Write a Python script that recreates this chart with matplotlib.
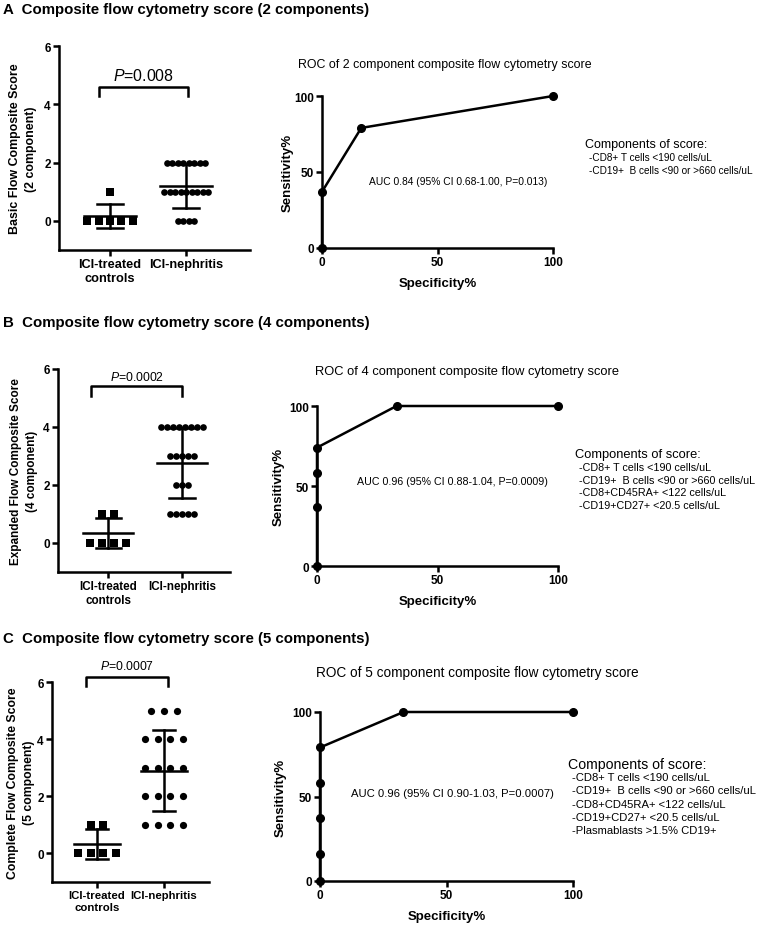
import numpy as np
import matplotlib
matplotlib.use("Agg")
import matplotlib.pyplot as plt

plt.rcParams['font.family'] = ['Liberation Sans', 'DejaVu Sans']
plt.rcParams['mathtext.fontset'] = 'custom'
plt.rcParams['mathtext.it'] = 'Liberation Sans:italic'
plt.rcParams['mathtext.rm'] = 'Liberation Sans'

# ---------------- data ----------------
groups = ["ICI-treated\ncontrols", "ICI-nephritis"]

A_controls = [1, 0, 0, 0, 0, 0]
A_nephritis = [2, 2, 2, 2, 2, 2, 2, 2, 1, 1, 1, 1, 1, 1, 1, 1, 1, 0, 0, 0, 0]
B_controls = [1, 1, 0, 0, 0, 0]
B_nephritis = [4, 4, 4, 4, 4, 4, 4, 4, 3, 3, 3, 3, 3, 2, 2, 2, 1, 1, 1, 1, 1]
C_controls = [1, 1, 0, 0, 0, 0]
C_nephritis = [5, 5, 5, 4, 4, 4, 4, 3, 3, 3, 3, 2, 2, 2, 2, 1, 1, 1, 1]

A_pval = "=0.008"
B_pval = "=0.0002"
C_pval = "=0.0007"

A_ylabel = "Basic Flow Composite Score\n(2 component)"
B_ylabel = "Expanded Flow Composite Score\n(4 component)"
C_ylabel = "Complete Flow Composite Score\n(5 component)"

A_roc_spec = [0, 0, 17, 100]
A_roc_sens = [0, 37, 79, 100]
B_roc_spec = [0, 0, 0, 0, 33, 100]
B_roc_sens = [0, 37, 58, 74, 100, 100]
C_roc_spec = [0, 0, 0, 0, 0, 33, 100]
C_roc_sens = [0, 16, 37, 58, 79, 100, 100]

A_auc = "AUC 0.84 (95% CI 0.68-1.00, P=0.013)"
B_auc = "AUC 0.96 (95% CI 0.88-1.04, P=0.0009)"
C_auc = "AUC 0.96 (95% CI 0.90-1.03, P=0.0007)"

A_roc_title = "ROC of 2 component composite flow cytometry score"
B_roc_title = "ROC of 4 component composite flow cytometry score"
C_roc_title = "ROC of 5 component composite flow cytometry score"

components = ["-CD8+ T cells <190 cells/uL",
              "-CD19+  B cells <90 or >660 cells/uL",
              "-CD8+CD45RA+ <122 cells/uL",
              "-CD19+CD27+ <20.5 cells/uL",
              "-Plasmablasts >1.5% CD19+"]
A_ncomp, B_ncomp, C_ncomp = 2, 4, 5

panel_titles = ["A  Composite flow cytometry score (2 components)",
                "B  Composite flow cytometry score (4 components)",
                "C  Composite flow cytometry score (5 components)"]

# ---------------- figure ----------------
W, H = 760, 928
fig = plt.figure(figsize=(W / 100, H / 100), dpi=100)


def fx(x):
    return x / W


def fy(y):
    return 1 - y / H


def rect(l, r, t, b):
    return [fx(l), fy(b), fx(r) - fx(l), fy(t) - fy(b)]


LW = 1.8


def style(ax, xfs=8.5):
    for s in ['top', 'right']:
        ax.spines[s].set_visible(False)
    for s in ['left', 'bottom']:
        ax.spines[s].set_linewidth(LW)
    ax.tick_params(width=LW, length=4, labelsize=8.5, pad=2)
    ax.tick_params(axis='x', labelsize=xfs)
    for lab in ax.get_xticklabels() + ax.get_yticklabels():
        lab.set_fontweight('bold')


def scatter_panel(rct, ctrl, neph, xlim, sp_c, sp_n, ms_c, ms_n,
                  pval, pfs, br_x, br_top, br_bot, p_y, ylabel, ylab_fs,
                  ylab_x, xfs):
    ax = fig.add_axes(rct)
    for xi, vals, sp, mk, ms in [(0, ctrl, sp_c, 's', ms_c), (1, neph, sp_n, 'o', ms_n)]:
        vals = np.asarray(vals, float)
        for v in np.unique(vals):
            n = int(np.sum(vals == v))
            offs = (np.arange(n) - (n - 1) / 2) * sp
            ax.plot(xi + offs, np.full(n, v), mk, color='black', ms=ms,
                    mew=0, zorder=2, clip_on=False)
        m = vals.mean()
        sd = vals.std(ddof=1)
        ax.plot([xi - 0.34, xi + 0.34], [m, m], color='black', lw=LW, zorder=3)
        ax.plot([xi, xi], [m - sd, m + sd], color='black', lw=LW, zorder=3)
        for yy in (m - sd, m + sd):
            ax.plot([xi - 0.17, xi + 0.17], [yy, yy], color='black', lw=LW, zorder=3)
    ax.set_xlim(*xlim)
    ax.set_ylim(-1, 6)
    ax.set_yticks([0, 2, 4, 6])
    ax.set_xticks([0, 1])
    ax.set_xticklabels(groups)
    style(ax, xfs=xfs)
    ax.set_ylabel(ylabel, fontsize=ylab_fs, fontweight='bold', linespacing=1.5)
    ax.yaxis.label.set_va('center')
    l, b, w, h = rct
    ax.yaxis.set_label_coords((fx(ylab_x) - l) / w, 0.5)
    # significance bracket
    ax.plot([br_x[0], br_x[0], br_x[1], br_x[1]], [br_bot, br_top, br_top, br_bot],
            color='black', lw=LW, clip_on=False)
    ax.text(np.mean(br_x), p_y, r'$\it{P}$' + pval, ha='center', va='center',
            fontsize=pfs)
    return ax


def roc_panel(rct, spec, sens, title, title_xy, title_fs, auc, auc_xy, auc_fs,
              ncomp, comp_xy, head_fs, item_fs, line_h, ylpad):
    ax = fig.add_axes(rct)
    ax.plot(spec, sens, '-o', color='black', lw=LW, ms=5.5, clip_on=False, zorder=3)
    ax.set_xlim(0, 100)
    ax.set_ylim(0, 100)
    ax.set_xticks([0, 50, 100])
    ax.set_yticks([0, 50, 100])
    style(ax)
    ax.set_xlabel("Specificity%", fontsize=9.5, fontweight='bold', labelpad=6)
    ax.set_ylabel("Sensitivity%", fontsize=9.5, fontweight='bold', labelpad=ylpad)
    fig.text(fx(title_xy[0]), fy(title_xy[1]), title, fontsize=title_fs,
             ha='left', va='center')
    fig.text(fx(auc_xy[0]), fy(auc_xy[1]), auc, fontsize=auc_fs,
             ha='center', va='center')
    fig.text(fx(comp_xy[0]), fy(comp_xy[1]), "Components of score:",
             fontsize=head_fs, ha='left', va='center')
    for i in range(ncomp):
        fig.text(fx(comp_xy[0] + 4), fy(comp_xy[1] + 13 + i * line_h), components[i],
                 fontsize=item_fs, ha='left', va='center')
    return ax


# panel titles
for t, y in zip(panel_titles, [10, 323, 639]):
    fig.text(fx(3), fy(y), t, fontsize=10.8, fontweight='bold', ha='left', va='center')

# ---- Panel A ----
scatter_panel(rect(59, 250, 47, 251), A_controls, A_nephritis, (-0.67, 1.84),
              0.15, 0.072, 5.2, 4.8, A_pval, 11.4, (-0.15, 1.03), 4.6, 4.3, 5.0,
              A_ylabel, 8.9, 23, 9.2)
roc_panel(rect(322, 553, 97, 249), A_roc_spec, A_roc_sens, A_roc_title, (298, 65), 8.9,
          A_auc, (458, 182), 7.4, A_ncomp, (585, 145), 9.0, 7.2, 13, 0)

# ---- Panel B ----
scatter_panel(rect(58, 230, 370, 573), B_controls, B_nephritis, (-0.68, 1.65),
              0.16, 0.082, 5.2, 4.8, B_pval, 8.8, (-0.23, 1.0), 5.4, 5.07, 5.75,
              B_ylabel, 8.5, 24, 8.4)
roc_panel(rect(317, 558, 407, 567), B_roc_spec, B_roc_sens, B_roc_title, (315, 372), 9.3,
          B_auc, (452, 482), 7.7, B_ncomp, (575, 455), 9.3, 7.75, 12.7, 3)

# ---- Panel C ----
scatter_panel(rect(52, 209, 683, 883), C_controls, C_nephritis, (-0.67, 1.67),
              0.19, 0.19, 5.2, 5.2, C_pval, 8.8, (-0.16, 1.06), 6.17, 5.86, 6.56,
              C_ylabel, 8.8, 21, 8.2)
roc_panel(rect(320, 573, 713, 882), C_roc_spec, C_roc_sens, C_roc_title, (316, 673), 9.8,
          C_auc, (452, 794), 8.15, C_ncomp, (568, 765), 10.2, 8.15, 13.3, 4)

fig.savefig("out.png", dpi=100)
